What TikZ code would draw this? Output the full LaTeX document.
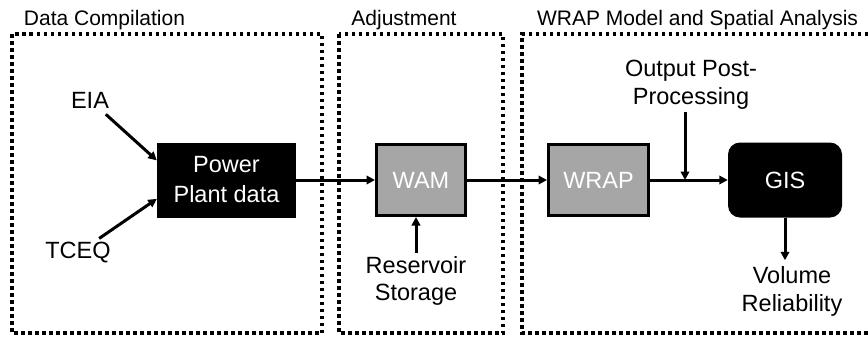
\documentclass[tikz,border=0pt]{standalone}
\usepackage{fontspec}
\setmainfont{Liberation Sans}
\usetikzlibrary{arrows.meta,calc}
\definecolor{boxgray}{HTML}{A6A6A6}
\tikzset{
  stage/.style = {draw=black, line width=3.2pt, dash pattern=on 3.5pt off 3.5pt},
  stagetitle/.style = {anchor=base, inner sep=0pt, font=\fontsize{21}{25}\selectfont},
  intext/.style = {align=center, font=\fontsize{23.5}{27.5}\selectfont},
  blackbox/.style = {fill=black, text=white, align=center, inner sep=0pt, font=\fontsize{23.5}{30}\selectfont},
  graybox/.style = {draw=black, line width=3pt, fill=boxgray, text=white, inner sep=0pt, font=\fontsize{23.5}{27.5}\selectfont},
  flow/.style = {-{Triangle[length=8.5pt, width=8.5pt]}, line width=3pt},
}
\begin{document}
\begin{tikzpicture}[x=1pt, y=-1pt]
  \useasboundingbox (0,0) rectangle (868,338);

  % Stages
  \draw[stage] (12,34) rectangle (322,333);
  \draw[stage] (339,34) rectangle (503,333);
  \draw[stage] (868,34) -- (522,34) -- (522,333) -- (868,333);
  \node[stagetitle] (t1) at (104.5,25) {Data Compilation};
  \node[stagetitle] (t2) at (404,25) {Adjustment};
  \node[stagetitle] (t3) at (697.5,25) {WRAP Model and Spatial Analysis};

  % Data compilation
  \node[intext] (eia) at (90,100) {EIA};
  \node[intext] (tceq) at (78,253) {TCEQ};
  \node[blackbox, minimum width=139pt, minimum height=75pt] (ppd) at (226.5,180) {Power\\Plant data};
  \draw[flow, shorten <=4pt] (eia) -- ($(ppd.north west)!0.24!(ppd.south west)$);
  \draw[flow, shorten <=1pt] (tceq) -- ($(ppd.north west)!0.75!(ppd.south west)$);

  % Adjustment
  \node[graybox, minimum width=89pt, minimum height=71pt] (wam) at (421,180) {WAM};
  \node[intext] (rs) at (416,281) {Reservoir\\Storage};
  \draw[flow] (rs.north) -- (rs.north |- wam.south);

  % WRAP model and spatial analysis
  \node[graybox, minimum width=100pt, minimum height=71pt] (wrap) at (598.5,180) {WRAP};
  \node[blackbox, rounded corners=12pt, minimum width=114pt, minimum height=75pt] (gis) at (785,180) {GIS};
  \node[intext] (opp) at (691,84.5) {Output Post-\\Processing};
  \node[intext] (vr) at (792,291.5) {Volume\\Reliability};
  \coordinate (jn) at (685,180);

  \draw[flow] (ppd) -- (wam);
  \draw[flow] (wam) -- (wrap);
  \draw[flow] (wrap) -- (gis);
  \draw[flow] (opp.south -| jn) -- (jn);
  \draw[flow, shorten >=3pt] (gis.south -| 785,0) -- (785,0 |- vr.north);
\end{tikzpicture}
\end{document}
